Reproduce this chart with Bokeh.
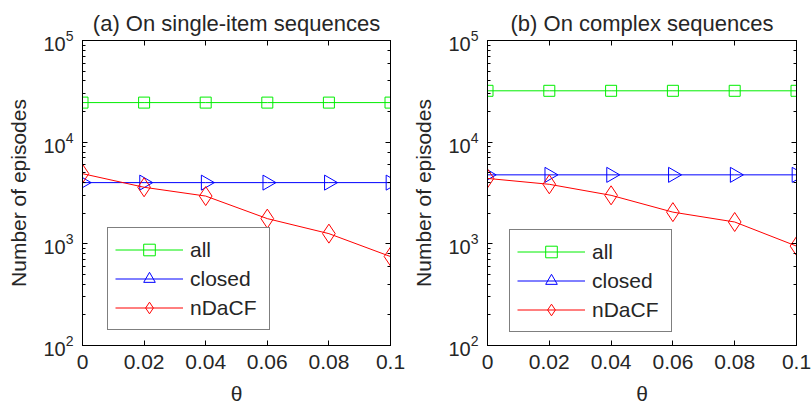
import math
from bokeh.plotting import figure
from bokeh.models import (Range1d, LogAxis, LinearAxis, FixedTicker, LogTicker,
                          Legend, LegendItem, Title, CustomJSTickFormatter)
from bokeh.layouts import row
from bokeh.embed import file_html
from bokeh.resources import INLINE

# ---------------- data ----------------
theta = [0, 0.02, 0.04, 0.06, 0.08, 0.1]
x_tick_labels = ["0", "0.02", "0.04", "0.06", "0.08", "0.1"]
panel_titles = ["(a) On single-item sequences", "(b) On complex sequences"]
series_names = ["all", "closed", "nDaCF"]
y_label = "Number of episodes"
x_label = "\u03b8"

a_all = [24500, 24500, 24500, 24500, 24500, 24500]
a_closed = [4000, 4000, 4000, 4000, 4000, 4000]
a_ndacf = [4900, 3600, 2950, 1770, 1260, 750]

b_all = [32000, 32000, 32000, 32000, 32000, 32000]
b_closed = [4770, 4770, 4770, 4770, 4770, 4770]
b_ndacf = [4400, 3850, 3000, 2050, 1640, 950]

# ---------------- style ----------------
FONT = "Liberation Sans"
TXT = "#262626"
GREEN = "#00ee00"
BLUE = "#0000ff"
RED = "#ff0000"


def make_panel(title, all_v, closed_v, ndacf_v, width, bl, br, leg_x, leg_y):
    p = figure(width=width, height=407, x_range=Range1d(0, 0.1),
               y_range=Range1d(100, 1e5), y_axis_type="log",
               output_backend="svg", toolbar_location=None,
               min_border_left=bl, min_border_right=br,
               min_border_top=40, min_border_bottom=59)
    p.title = Title(text=title, align="center", text_font=FONT,
                    text_font_size="22px", text_font_style="normal",
                    text_color=TXT, standoff=9)
    p.xgrid.visible = False
    p.ygrid.visible = False
    p.outline_line_color = "black"
    p.background_fill_color = "white"
    p.border_fill_color = "white"

    xt = FixedTicker(ticks=theta, minor_ticks=[])
    xa = p.xaxis[0]
    xa.ticker = xt
    xa.major_label_overrides = {t: s for t, s in zip(theta, x_tick_labels)}
    xa.major_label_text_font = FONT
    xa.major_label_text_font_size = "21px"
    xa.major_label_text_color = TXT
    xa.major_label_standoff = 9
    xa.major_tick_in = 5
    xa.major_tick_out = 0
    xa.axis_line_color = "black"
    xa.axis_label = x_label
    xa.axis_label_text_font = FONT
    xa.axis_label_text_font_size = "21px"
    xa.axis_label_text_font_style = "normal"
    xa.axis_label_text_color = TXT
    xa.axis_label_standoff = 10

    ya = p.yaxis[0]
    ya.major_label_text_font = FONT
    ya.major_label_text_font_size = "20px"
    ya.major_label_text_color = TXT
    ya.major_label_standoff = 9
    ya.major_tick_in = 5
    ya.major_tick_out = 0
    ya.minor_tick_in = 3
    ya.minor_tick_out = 0
    ya.axis_line_color = "black"
    ya.axis_label = y_label
    ya.axis_label_text_font = FONT
    ya.axis_label_text_font_size = "21px"
    ya.axis_label_text_font_style = "normal"
    ya.axis_label_text_color = TXT
    ya.axis_label_standoff = 10

    top = LinearAxis(ticker=FixedTicker(ticks=theta, minor_ticks=[]),
                     formatter=CustomJSTickFormatter(code="return ''"),
                     major_label_standoff=0,
                     major_tick_in=5, major_tick_out=0, minor_tick_in=0,
                     minor_tick_out=0, axis_line_color="black")
    p.add_layout(top, "above")
    right = LogAxis(ticker=LogTicker(), formatter=CustomJSTickFormatter(code="return ''"),
                    major_label_standoff=0, major_tick_in=5, major_tick_out=0,
                    minor_tick_in=3, minor_tick_out=0, axis_line_color="black")
    p.add_layout(right, "right")

    l1 = p.line(theta, all_v, line_color=GREEN, line_width=1)
    m1 = p.scatter(theta, all_v, marker="square", size=11, fill_color=None,
                   line_color=GREEN, line_width=1)
    l2 = p.line(theta, closed_v, line_color=BLUE, line_width=1)
    m2 = p.scatter(theta, closed_v, marker="triangle", size=15, angle=-math.pi / 2,
                   fill_color=None, line_color=BLUE, line_width=1)
    l3 = p.line(theta, ndacf_v, line_color=RED, line_width=1)
    m3 = p.scatter(theta, ndacf_v, marker="diamond", size=19, fill_color=None,
                   line_color=RED, line_width=1)

    legend = Legend(items=[LegendItem(label=series_names[0], renderers=[m1, l1]),
                           LegendItem(label=series_names[1], renderers=[m2, l2]),
                           LegendItem(label=series_names[2], renderers=[m3, l3])],
                    location=(leg_x, leg_y), padding=7, spacing=0,
                    glyph_width=68, glyph_height=29, label_height=29,
                    label_standoff=7, label_width=72, margin=0,
                    border_line_color="black", border_line_width=1,
                    background_fill_color="white", background_fill_alpha=1,
                    label_text_font=FONT, label_text_font_size="21px",
                    label_text_color=TXT)
    p.add_layout(legend)
    return p


p1 = make_panel(panel_titles[0], a_all, a_closed, a_ndacf, 405, 82, 15, 25, 15)
p2 = make_panel(panel_titles[1], b_all, b_closed, b_ndacf, 407, 82, 16, 22, 13)

layout = row(p1, p2, spacing=0)
open("out.html", "w").write(file_html(layout, INLINE))
